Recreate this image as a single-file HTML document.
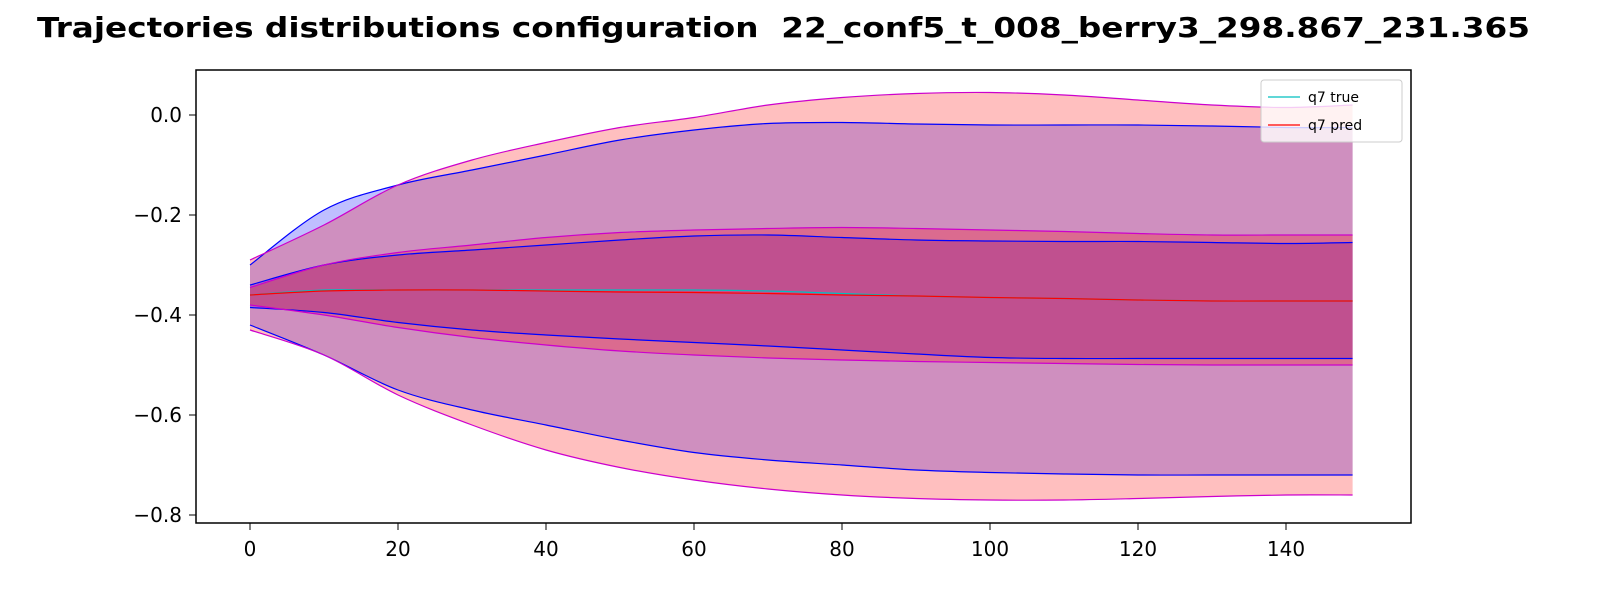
<!DOCTYPE html>
<html><head><meta charset="utf-8"><style>
body{margin:0;background:#fff;}
svg text{font-family:"DejaVu Sans","Liberation Sans",sans-serif;}
</style></head><body>
<svg id="chart" width="1600" height="600">
<text x="37" y="37" font-size="28" font-weight="bold" textLength="1493" lengthAdjust="spacingAndGlyphs" xml:space="preserve">Trajectories distributions configuration  22_conf5_t_008_berry3_298.867_231.365</text>
<g id="plot"></g>
<rect x="196" y="70" width="1215" height="453" fill="none" stroke="#000" stroke-width="1.5"/>
<g id="axes"></g>
<g>
<rect x="1261" y="80" width="141" height="62" fill="#fff" fill-opacity="0.8" stroke="#ccc" rx="3"/>
<line x1="1268" y1="97" x2="1300" y2="97" stroke="#00bfbf" stroke-width="1.2"/>
<text x="1308" y="102" font-size="14">q7 true</text>
<line x1="1268" y1="125" x2="1300" y2="125" stroke="#f00" stroke-width="1.2"/>
<text x="1308" y="130" font-size="14">q7 pred</text>
</g>
</svg>
<script>
const xs = [0,10,20,30,40,50,60,70,80,90,100,110,120,130,140,149];
const trueOuterUp = [-0.30,-0.19,-0.14,-0.11,-0.08,-0.05,-0.03,-0.017,-0.015,-0.018,-0.02,-0.02,-0.02,-0.022,-0.025,-0.025];
const trueOuterLo = [-0.42,-0.48,-0.55,-0.59,-0.62,-0.65,-0.675,-0.69,-0.70,-0.71,-0.715,-0.718,-0.72,-0.72,-0.72,-0.72];
const trueInnerUp = [-0.34,-0.30,-0.28,-0.27,-0.26,-0.25,-0.242,-0.24,-0.245,-0.25,-0.252,-0.253,-0.253,-0.255,-0.257,-0.255];
const trueInnerLo = [-0.385,-0.395,-0.415,-0.43,-0.44,-0.448,-0.455,-0.462,-0.47,-0.478,-0.485,-0.487,-0.487,-0.487,-0.487,-0.487];
const predOuterUp = [-0.29,-0.22,-0.14,-0.09,-0.055,-0.025,-0.005,0.02,0.035,0.043,0.045,0.04,0.03,0.02,0.015,0.02];
const predOuterLo = [-0.43,-0.48,-0.56,-0.62,-0.67,-0.705,-0.73,-0.748,-0.76,-0.767,-0.77,-0.77,-0.767,-0.763,-0.76,-0.76];
const predInnerUp = [-0.345,-0.30,-0.275,-0.26,-0.245,-0.235,-0.23,-0.227,-0.225,-0.227,-0.23,-0.233,-0.237,-0.24,-0.24,-0.24];
const predInnerLo = [-0.38,-0.40,-0.425,-0.445,-0.46,-0.472,-0.48,-0.486,-0.49,-0.493,-0.495,-0.497,-0.499,-0.5,-0.5,-0.5];
const trueMean = [-0.36,-0.35,-0.35,-0.35,-0.35,-0.35,-0.35,-0.352,-0.357,-0.362,-0.365,-0.367,-0.37,-0.372,-0.372,-0.372];
const predMean = [-0.36,-0.352,-0.35,-0.35,-0.352,-0.354,-0.355,-0.357,-0.36,-0.362,-0.365,-0.367,-0.37,-0.372,-0.372,-0.372];
const xTicks = [0,20,40,60,80,100,120,140];
const yTicks = [0.0,-0.2,-0.4,-0.6,-0.8];

const sx = v => 250 + v*7.4;
const sy = v => 115 - v*500;
const NS = "http://www.w3.org/2000/svg";
function pts(ys){return xs.map((x,i)=>[sx(x),sy(ys[i])]);}
function curve(p, move){
  let d = (move?"M":"L")+p[0][0]+","+p[0][1];
  for(let i=0;i<p.length-1;i++){
    const p0=p[Math.max(i-1,0)],p1=p[i],p2=p[i+1],p3=p[Math.min(i+2,p.length-1)];
    d+=" C"+(p1[0]+(p2[0]-p0[0])/6)+","+(p1[1]+(p2[1]-p0[1])/6)+" "+(p2[0]-(p3[0]-p1[0])/6)+","+(p2[1]-(p3[1]-p1[1])/6)+" "+p2[0]+","+p2[1];
  }
  return d;
}
const plot=document.getElementById('plot');
function band(up,lo,fill,name){
  const p=document.createElementNS(NS,'path');
  p.setAttribute('d',curve(pts(up),true)+" "+curve(pts(lo).reverse(),false)+"Z");
  p.setAttribute('fill',fill);p.setAttribute('fill-opacity','0.25');p.setAttribute('stroke','none');
  
  
  plot.appendChild(p);
}
function line(ys,color,w,name){
  const p=document.createElementNS(NS,'path');
  p.setAttribute('d',curve(pts(ys),true));
  p.setAttribute('fill','none');p.setAttribute('stroke',color);p.setAttribute('stroke-width',w);
  
  
  plot.appendChild(p);
}
band(trueOuterUp,trueOuterLo,'#0000ff','true-outer-band');
band(trueInnerUp,trueInnerLo,'#0000ff','true-inner-band');
band(predOuterUp,predOuterLo,'#ff0000','pred-outer-band');
band(predInnerUp,predInnerLo,'#ff0000','pred-inner-band');
line(trueOuterUp,'#0000ff',1.2,'true-outer-upper');
line(trueOuterLo,'#0000ff',1.2,'true-outer-lower');
line(trueInnerUp,'#0000ff',1.2,'true-inner-upper');
line(trueInnerLo,'#0000ff',1.2,'true-inner-lower');
line(predOuterUp,'#cc00cc',1.2,'pred-outer-upper');
line(predOuterLo,'#cc00cc',1.2,'pred-outer-lower');
line(predInnerUp,'#cc00cc',1.2,'pred-inner-upper');
line(predInnerLo,'#cc00cc',1.2,'pred-inner-lower');
line(trueMean,'#00bfbf',1.2,'true-mean-line');
line(predMean,'#ff0000',1.2,'pred-mean-line');
const axes=document.getElementById('axes');
xTicks.forEach(t=>{
  const l=document.createElementNS(NS,'line');
  l.setAttribute('x1',sx(t));l.setAttribute('x2',sx(t));l.setAttribute('y1',523);l.setAttribute('y2',530);l.setAttribute('stroke','#000');
  
  
  axes.appendChild(l);
  const tx=document.createElementNS(NS,'text');
  tx.setAttribute('x',sx(t));tx.setAttribute('y',556);tx.setAttribute('text-anchor','middle');tx.setAttribute('font-size','20');
  tx.textContent=t;
  
  
  axes.appendChild(tx);
});
yTicks.forEach(t=>{
  const l=document.createElementNS(NS,'line');
  l.setAttribute('x1',189);l.setAttribute('x2',196);l.setAttribute('y1',sy(t));l.setAttribute('y2',sy(t));l.setAttribute('stroke','#000');
  
  
  axes.appendChild(l);
  const tx=document.createElementNS(NS,'text');
  tx.setAttribute('x',182);tx.setAttribute('y',sy(t)+7);tx.setAttribute('text-anchor','end');tx.setAttribute('font-size','20');
  tx.textContent=(t<0?'\u2212':'')+Math.abs(t).toFixed(1);
  
  
  axes.appendChild(tx);
});
</script>
</body></html>
